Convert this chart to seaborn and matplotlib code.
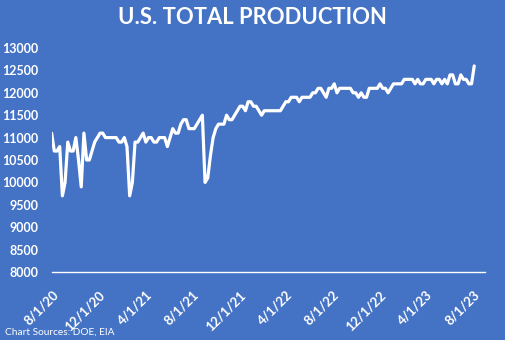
import matplotlib
matplotlib.use("Agg")
import matplotlib.pyplot as plt
import seaborn as sns
import pandas as pd

# Weekly U.S. crude oil field production, thousand barrels per day
week_start = "2020-07-31"
n_weeks = 158
production = [
    11100, 10700, 10700, 10800, 9700, 10000, 10900, 10700, 10700, 11000, 10500, 9900, 11100, 10500, 10500,
    10700, 10900, 11000, 11100, 11100, 11000, 11000, 11000, 11000, 11000, 10900, 10900, 11000, 10800, 9700,
    10000, 10900, 10900, 11000, 11100, 10900, 11000, 11000, 10900, 10900, 11000, 11000, 11000, 10800, 11000,
    11200, 11100, 11100, 11300, 11400, 11400, 11200, 11200, 11200, 11300, 11400, 11500, 10000, 10100, 10600,
    11000, 11200, 11300, 11300, 11300, 11500, 11400, 11400, 11500, 11600, 11700, 11700, 11600, 11800, 11800,
    11700, 11700, 11600, 11500, 11600, 11600, 11600, 11600, 11600, 11600, 11600, 11700, 11800, 11800, 11900,
    11900, 11900, 11800, 11900, 11900, 11900, 11900, 12000, 12000, 12100, 12100, 12000, 11900, 12100, 12100,
    12200, 12000, 12100, 12100, 12100, 12100, 12100, 12000, 12000, 11900, 12000, 11900, 11900, 12100, 12100,
    12100, 12100, 12200, 12100, 12100, 12000, 12100, 12200, 12200, 12200, 12200, 12300, 12300, 12300, 12300,
    12200, 12300, 12200, 12200, 12300, 12300, 12300, 12200, 12300, 12300, 12200, 12300, 12200, 12400, 12400,
    12200, 12200, 12400, 12300, 12300, 12200, 12200, 12600,
]
y_ticks = [8000, 8500, 9000, 9500, 10000, 10500, 11000, 11500, 12000, 12500, 13000]
x_tick_dates = ["2020-08-01", "2020-12-01", "2021-04-01", "2021-08-01", "2021-12-01",
                "2022-04-01", "2022-08-01", "2022-12-01", "2023-04-01", "2023-08-01"]
title = "U.S. TOTAL PRODUCTION"
source_note = "Chart Sources: DOE, EIA"

df = pd.DataFrame({
    "week": pd.date_range(week_start, periods=n_weeks, freq="7D"),
    "production": production,
})

bg = "#4472C4"
sns.set_style("white")
plt.rcParams["font.family"] = ["Lato", "DejaVu Sans"]

fig = plt.figure(figsize=(5.05, 3.40), dpi=100, facecolor=bg)
ax = fig.add_axes([52 / 505, 1 - 272 / 340, (485 - 52) / 505, (272 - 48) / 340])
ax.set_facecolor(bg)

sns.lineplot(data=df, x="week", y="production", ax=ax, color="white", linewidth=2.3)

ax.set_ylim(8000, 13000)
ax.set_xlim(pd.Timestamp("2020-08-01"), pd.Timestamp("2023-09-01"))
ax.set_yticks(y_ticks)
ax.set_yticklabels([str(v) for v in y_ticks], fontsize=9, fontweight="bold", color="white")

xt = pd.to_datetime(x_tick_dates)
ax.set_xticks(xt)
ax.set_xticklabels([f"{d.month}/{d.day}/{d.year % 100}" for d in xt],
                   rotation=45, ha="right", va="top", rotation_mode="anchor",
                   fontsize=9.5, fontweight="bold", color="white")

ax.tick_params(axis="x", colors="white", length=4, width=1, direction="out", pad=8)
ax.tick_params(axis="y", length=0, pad=10)

for side in ["top", "right", "left"]:
    ax.spines[side].set_visible(False)
ax.spines["bottom"].set_color("white")
ax.spines["bottom"].set_linewidth(1)
ax.set_xlabel("")
ax.set_ylabel("")

fig.text(0.5, 1 - 18 / 340, title, ha="center", va="center",
         fontsize=15.8, fontweight="bold", color="white")
fig.text(5 / 505, 1 - 332 / 340, source_note, ha="left", va="center",
         fontsize=7.3, color="white")

fig.savefig("out.png", dpi=100, facecolor=bg)
